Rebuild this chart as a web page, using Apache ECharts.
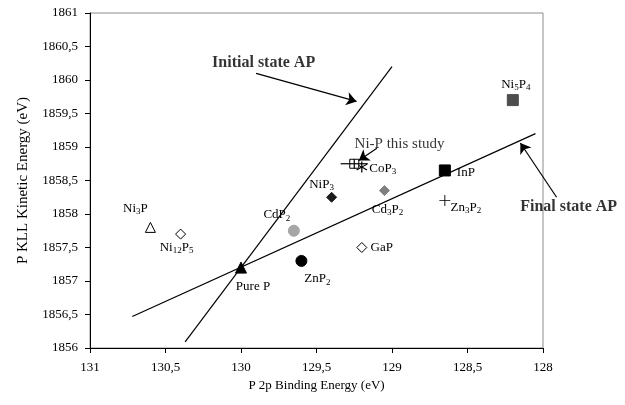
<!DOCTYPE html>
<html>
<head>
<meta charset="utf-8">
<script src="https://cdn.jsdelivr.net/npm/echarts@6/dist/echarts.min.js"></script>
<style>
  html, body { margin: 0; padding: 0; background: #fff; }
  #chart { width: 625px; height: 405px; }
</style>
</head>
<body>
<div id="chart"></div>
<script>
// Wagner plot: P 2p binding energy vs P KLL kinetic energy for phosphides
const compounds = ['Ni3P', 'Ni12P5', 'Pure P', 'ZnP2', 'CdP2', 'NiP3', 'CoP3',
  'Ni-P this study', 'Cd3P2', 'GaP', 'InP', 'Zn3P2', 'Ni5P4'];
const bindingEnergy = [130.6, 130.4, 130.0, 129.6, 129.65, 129.4, 129.2,
  129.25, 129.05, 129.2, 128.65, 128.65, 128.2];
const kineticEnergy = [1857.8, 1857.7, 1857.2, 1857.3, 1857.75, 1858.25, 1858.7,
  1858.75, 1858.35, 1857.5, 1858.65, 1858.2, 1859.7];

// Uncertainty of this study's measurement (x, y)
const studyError = [0.09, 0.07];

// Auger parameter reference lines (x, y endpoints)
const initialStateX = [130.37, 129.0];
const initialStateY = [1856.09, 1860.2];
const finalStateX = [130.72, 128.05];
const finalStateY = [1856.47, 1859.2];

// Annotation arrows: [fromX, fromY, toX, toY]
const arrowInitial = [129.9, 1860.1, 129.235, 1859.68];
const arrowStudy = [129.1, 1858.98, 129.22, 1858.8];
const arrowFinal = [127.91, 1858.25, 128.15, 1859.06];

// Annotation texts with their anchor values
const noteTexts = ['Initial state AP', 'Ni-P this study', 'Final state AP'];
const noteX = [129.85, 128.95, 127.83];
const noteY = [1860.26, 1859.05, 1858.11];
const noteBold = [true, false, true];

// Axis ranges
const xMin = 128, xMax = 131, xStep = 0.5;
const yMin = 1856, yMax = 1861, yStep = 0.5;

const SERIF = 'Liberation Serif';

// Custom symbols
const asteriskPath = 'path://M-0.6,-6 L0.6,-6 L0.6,-0.9 L4.6,-3.6 L5.2,-2.6 L1.1,0 L5.2,2.6 L4.6,3.6 L0.6,0.9 L0.6,6 L-0.6,6 L-0.6,0.9 L-4.6,3.6 L-5.2,2.6 L-1.1,0 L-5.2,-2.6 L-4.6,-3.6 L-0.6,-0.9 Z';
const plusPath = 'path://M-0.5,-6 L0.5,-6 L0.5,-0.5 L6,-0.5 L6,0.5 L0.5,0.5 L0.5,6 L-0.5,6 L-0.5,0.5 L-6,0.5 L-6,-0.5 L-0.5,-0.5 Z';

// Marker style and label placement for each compound
const looks = {
  'Ni3P':   { symbol: 'triangle', size: 10, fill: '#fff', stroke: '#000', label: 'Ni{s|3}P', off: [-15, -19] },
  'Ni12P5': { symbol: 'diamond', size: 10, fill: '#fff', stroke: '#000', label: 'Ni{s|12}P{s|5}', off: [-4, 13] },
  'Pure P': { symbol: 'triangle', size: 11, fill: '#000', stroke: '#000', label: 'Pure P', off: [12, 19] },
  'ZnP2':   { symbol: 'circle', size: 11, fill: '#000', stroke: '#000', label: 'ZnP{s|2}', off: [16, 18] },
  'CdP2':   { symbol: 'circle', size: 11, fill: '#a6a6a6', stroke: '#a6a6a6', label: 'CdP{s|2}', off: [-17, -16] },
  'NiP3':   { symbol: 'diamond', size: 10, fill: '#1a1a1a', stroke: '#1a1a1a', label: 'NiP{s|3}', off: [-10, -13] },
  'CoP3':   { symbol: asteriskPath, size: 11, fill: '#000', stroke: null, label: 'CoP{s|3}', off: [21, 1] },
  'Ni-P this study': { symbol: 'rect', size: 9, fill: '#fff', stroke: '#000', label: '', off: [0, 0] },
  'Cd3P2':  { symbol: 'diamond', size: 10, fill: '#808080', stroke: '#808080', label: 'Cd{s|3}P{s|2}', off: [3, 19] },
  'GaP':    { symbol: 'diamond', size: 10, fill: '#fff', stroke: '#000', label: 'GaP', off: [20, 0] },
  'InP':    { symbol: 'rect', size: 11, fill: '#000', stroke: '#000', label: 'InP', off: [21, 2] },
  'Zn3P2':  { symbol: plusPath, size: 11, fill: '#000', stroke: null, label: 'Zn{s|3}P{s|2}', off: [21, 7] },
  'Ni5P4':  { symbol: 'rect', size: 11, fill: '#4d4d4d', stroke: '#4d4d4d', label: 'Ni{s|5}P{s|4}', off: [3, -16] }
};

const richStyles = {
  s: { fontFamily: SERIF, fontSize: 9, color: '#000', verticalAlign: 'bottom', lineHeight: 16, padding: [5, 0, 0, 0] }
};

const fmtComma = v => String(v).replace('.', ',');

const series = [];

// Reference lines
series.push({
  type: 'line', name: 'Initial state AP', silent: true, symbol: 'none',
  data: initialStateX.map((x, i) => [x, initialStateY[i]]),
  lineStyle: { color: '#000', width: 1.2 }, z: 2
});
series.push({
  type: 'line', name: 'Final state AP', silent: true, symbol: 'none',
  data: finalStateX.map((x, i) => [x, finalStateY[i]]),
  lineStyle: { color: '#000', width: 1.2 }, z: 2
});

// One scatter series per compound
compounds.forEach((name, i) => {
  const lk = looks[name];
  series.push({
    type: 'scatter', name: name,
    data: [[bindingEnergy[i], kineticEnergy[i]]],
    symbol: lk.symbol, symbolSize: lk.size,
    itemStyle: {
      color: lk.fill,
      borderColor: lk.stroke || 'transparent',
      borderWidth: lk.stroke ? 1 : 0,
      opacity: 1
    },
    label: {
      show: !!lk.label, formatter: lk.label, position: 'inside', offset: lk.off,
      fontFamily: SERIF, fontSize: 13, color: '#000', lineHeight: 16,
      align: 'center', verticalAlign: 'middle', rich: richStyles
    },
    z: 4
  });
});

// Error bars drawn across this study's marker
const studyIdx = compounds.indexOf('Ni-P this study');
series.push({
  type: 'custom', name: 'error', silent: true, z: 5,
  data: [[bindingEnergy[studyIdx], kineticEnergy[studyIdx], studyError[0], studyError[1]]],
  renderItem: function (params, api) {
    const x = api.value(0), y = api.value(1), ex = api.value(2), ey = api.value(3);
    const l = api.coord([x + ex, y]), r = api.coord([x - ex, y]);
    const t = api.coord([x, y + ey]), b = api.coord([x, y - ey]);
    const st = { stroke: '#000', lineWidth: 1.2 };
    return {
      type: 'group',
      children: [
        { type: 'line', shape: { x1: l[0], y1: l[1], x2: r[0], y2: r[1] }, style: st },
        { type: 'line', shape: { x1: t[0], y1: t[1], x2: b[0], y2: b[1] }, style: st }
      ]
    };
  }
});

// Annotation arrows
series.push({
  type: 'lines', coordinateSystem: 'cartesian2d', silent: true, clip: false, z: 6,
  symbol: ['none', 'arrow'], symbolSize: [0, 10],
  lineStyle: { color: '#000', width: 1.2, opacity: 1 },
  data: [arrowInitial, arrowStudy, arrowFinal].map(a => ({ coords: [[a[0], a[1]], [a[2], a[3]]] }))
});

// Annotation texts
noteTexts.forEach((t, i) => {
  series.push({
    type: 'scatter', name: t, silent: true, clip: false, symbolSize: 1, z: 7,
    data: [[noteX[i], noteY[i]]],
    itemStyle: { color: 'rgba(0,0,0,0)' },
    label: {
      show: true, position: 'inside', formatter: t,
      fontFamily: SERIF, fontSize: noteBold[i] ? 16 : 15, color: '#000',
      fontWeight: noteBold[i] ? 'bold' : 'normal',
      align: 'center', verticalAlign: 'middle'
    }
  });
});

const option = {
  backgroundColor: '#fff',
  animation: false,
  grid: {
    left: 90, right: 82, top: 13, bottom: 57,
    show: true, borderColor: '#8c8c8c', borderWidth: 1, backgroundColor: 'transparent'
  },
  xAxis: {
    type: 'value', inverse: true, min: xMin, max: xMax, interval: xStep,
    name: 'P 2p Binding Energy (eV)', nameLocation: 'middle', nameGap: 31,
    nameTextStyle: { fontFamily: SERIF, fontSize: 13, color: '#000' },
    axisLine: { show: true, onZero: false, lineStyle: { color: '#000', width: 1 } },
    axisTick: { show: true, inside: false, length: 5, lineStyle: { color: '#000' } },
    axisLabel: { fontFamily: SERIF, fontSize: 13, color: '#000', margin: 13, formatter: fmtComma },
    splitLine: { show: false }
  },
  yAxis: {
    type: 'value', min: yMin, max: yMax, interval: yStep,
    name: 'P KLL Kinetic Energy (eV)', nameLocation: 'middle', nameGap: 59,
    nameTextStyle: { fontFamily: SERIF, fontSize: 15, color: '#000' },
    axisLine: { show: true, onZero: false, lineStyle: { color: '#000', width: 1 } },
    axisTick: { show: true, inside: false, length: 5, lineStyle: { color: '#000' } },
    axisLabel: { fontFamily: SERIF, fontSize: 13, color: '#000', margin: 12, formatter: fmtComma },
    splitLine: { show: false }
  },
  series: series
};

const chart = echarts.init(document.getElementById('chart'), null, { renderer: 'canvas' });
chart.setOption(option);
</script>
</body>
</html>
